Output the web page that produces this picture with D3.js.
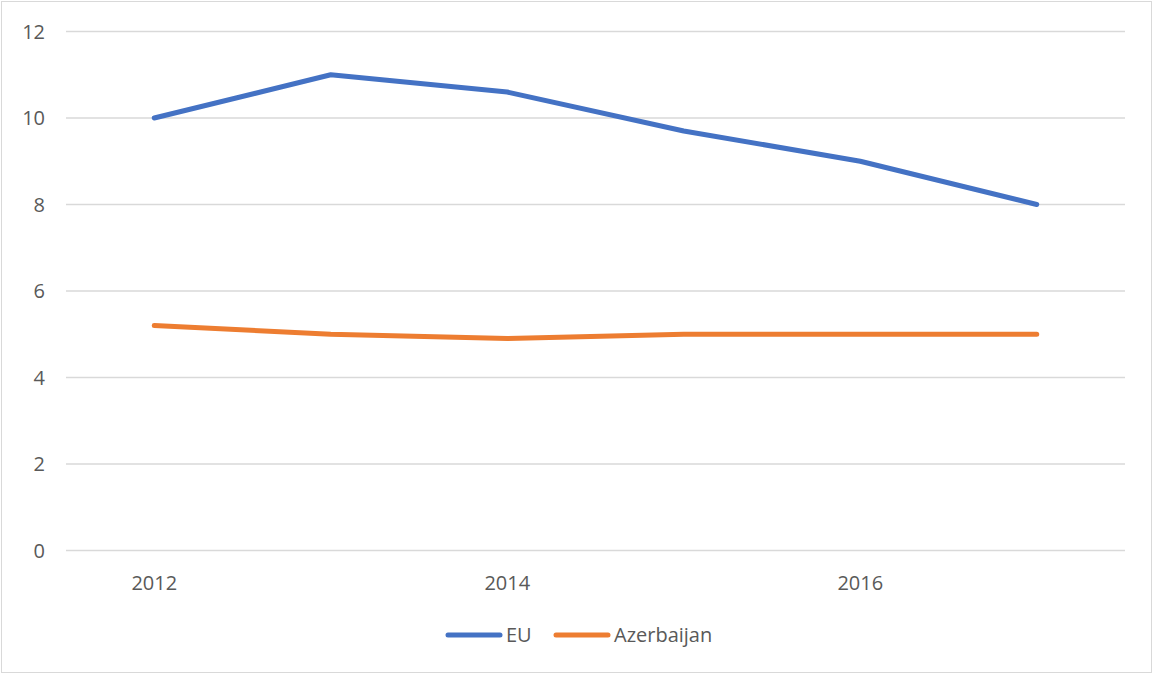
<!DOCTYPE html>
<html><head><meta charset="utf-8">
<script src="https://cdn.jsdelivr.net/npm/d3@7"></script>
<style>body{margin:0;background:#fff}svg{display:block}text{font-family:"Open Sans","Noto Sans",sans-serif;fill:#595959}</style>
</head><body><svg id="c" width="1153" height="675"></svg>
<script>
const years = ["2012","2013","2014","2015","2016","2017"];
const tickLabels = ["2012","2014","2016"];
const euValues = [10, 11, 10.6, 9.7, 9.0, 8.0];
const azValues = [5.2, 5.0, 4.9, 5.0, 5.0, 5.0];
const yTicks = [0,2,4,6,8,10,12];
const seriesNames = ["EU","Azerbaijan"];
const colors = ["#4472C4","#ED7D31"];

(function(){
const svg = d3.select("#c");
svg.append("rect").attr("x",1.5).attr("y",1.5).attr("width",1150).attr("height",671)
  .attr("fill","#fff").attr("stroke","#d9d9d9").attr("stroke-width",1);

const pLeft=66, pRight=1125, pTop=31.5, pBottom=550.5;
const x = d3.scaleBand().domain(years).range([pLeft,pRight]);
const y = d3.scaleLinear().domain([0,12]).range([pBottom,pTop]);
const fs = 20;

const g = svg.append("g");
g.selectAll("line.grid").data(yTicks).join("line")
  .attr("x1",pLeft).attr("x2",pRight)
  .attr("y1",d=>y(d)).attr("y2",d=>y(d))
  .attr("stroke","#d9d9d9").attr("stroke-width",1.3);

g.selectAll("text.yl").data(yTicks).join("text")
  .attr("x",45).attr("y",d=>y(d)).attr("dy","0.35em").attr("text-anchor","end")
  .attr("font-size",fs).text(d=>d);

g.selectAll("text.xl").data(tickLabels).join("text")
  .attr("x",d=>x(d)+x.bandwidth()/2).attr("y",583).attr("dy","0.35em")
  .attr("text-anchor","middle").attr("font-size",fs).text(d=>d);

const line = d3.line().x((d,i)=>x(years[i])+x.bandwidth()/2).y(d=>y(d));
[euValues, azValues].forEach((vals,k)=>{
  svg.append("path").datum(vals).attr("d",line).attr("fill","none")
    .attr("stroke",colors[k]).attr("stroke-width",5).attr("stroke-linecap","round").attr("stroke-linejoin","round");
});

const legX = [446, 554];
seriesNames.forEach((n,k)=>{
  svg.append("line").attr("x1",legX[k]+2).attr("x2",legX[k]+54).attr("y1",635).attr("y2",635)
    .attr("stroke",colors[k]).attr("stroke-width",5).attr("stroke-linecap","round");
  svg.append("text").attr("x",legX[k]+60).attr("y",635).attr("dy","0.35em").attr("font-size",fs).text(n);
});
})();
</script></body></html>
